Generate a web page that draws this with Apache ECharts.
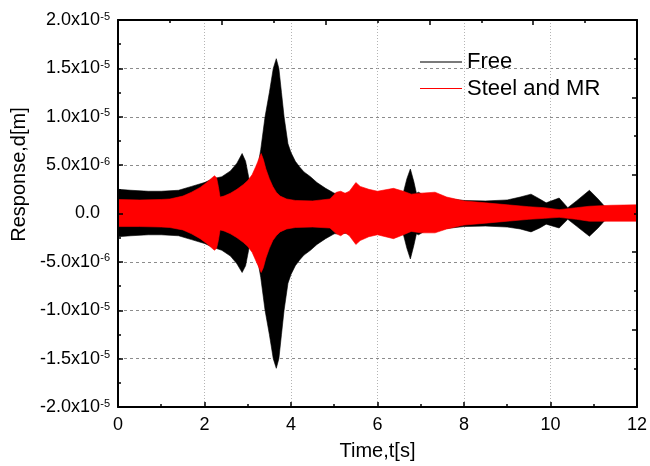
<!DOCTYPE html>
<html>
<head>
<meta charset="utf-8">
<script src="https://cdn.jsdelivr.net/npm/echarts@6/dist/echarts.min.js"></script>
<style>
  html, body { margin: 0; padding: 0; background: #fff; }
  #chart { width: 650px; height: 466px; }
</style>
</head>
<body>
<div id="chart"></div>
<script>
// Displacement response envelopes (upper / lower bound, in units of 1e-6 m)
const freeTime = [0, 0.3, 0.7, 1.0, 1.4, 1.7, 2.0, 2.2, 2.4, 2.6, 2.75, 2.87, 2.95, 3.02, 3.08, 3.2, 3.3, 3.4, 3.5, 3.59, 3.66, 3.72, 3.78, 3.84, 3.93, 4.0, 4.1, 4.2, 4.3, 4.45, 4.6, 4.8, 5.0, 5.5, 6.0, 6.4, 6.6, 6.68, 6.76, 6.84, 6.9, 6.95, 7.1, 7.5, 8.0, 8.5, 9.0, 9.3, 9.55, 9.75, 9.9, 10.2, 10.4, 10.6, 10.9, 11.1, 11.25, 11.5, 12.0];
const freeUpper = [2.5, 2.4, 2.3, 2.3, 2.4, 2.8, 3.2, 3.6, 3.8, 4.4, 5.2, 6.2, 5.4, 3.8, 2.4, 4.0, 6.6, 10.0, 12.5, 15.0, 16.0, 15.0, 12.5, 10.0, 7.2, 6.3, 5.4, 4.8, 4.3, 3.8, 3.2, 2.6, 2.1, 2.0, 1.8, 2.0, 2.2, 3.6, 4.6, 3.3, 2.1, 2.2, 1.8, 1.6, 1.35, 1.3, 1.4, 1.7, 2.0, 1.5, 1.1, 1.6, 0.6, 1.3, 2.4, 1.5, 0.75, 0.6, 0.5];
const freeLower = [-2.4, -2.3, -2.2, -2.2, -2.3, -2.7, -3.1, -3.5, -3.8, -4.4, -5.2, -6.1, -5.4, -3.8, -2.4, -4.0, -6.6, -10.0, -12.5, -15.0, -16.0, -15.0, -12.5, -10.0, -7.2, -6.3, -5.4, -4.8, -4.3, -3.8, -3.2, -2.6, -2.1, -2.0, -1.8, -2.0, -2.2, -3.6, -4.7, -3.3, -2.1, -2.2, -1.8, -1.6, -1.35, -1.3, -1.4, -1.6, -1.9, -1.5, -1.1, -1.5, -0.6, -1.3, -2.35, -1.5, -0.75, -0.6, -0.5];

const mrTime = [0, 0.5, 1.0, 1.2, 1.5, 1.7, 1.9, 2.05, 2.15, 2.23, 2.28, 2.32, 2.36, 2.45, 2.6, 2.75, 2.9, 3.0, 3.1, 3.2, 3.27, 3.31, 3.36, 3.42, 3.5, 3.58, 3.66, 3.75, 3.9, 4.1, 4.5, 4.9, 5.05, 5.15, 5.25, 5.35, 5.5, 5.6, 5.8, 6.0, 6.37, 6.6, 6.78, 7.0, 7.33, 7.6, 8.0, 8.5, 9.0, 9.5, 9.86, 10.2, 10.6, 10.9, 11.4, 12.0];
const mrUpper = [1.45, 1.4, 1.45, 1.5, 1.8, 2.2, 2.7, 3.2, 3.6, 3.9, 3.7, 2.8, 1.7, 1.8, 2.1, 2.5, 3.0, 3.4, 4.0, 5.0, 5.8, 6.2, 5.6, 4.6, 3.6, 2.8, 2.2, 1.8, 1.5, 1.35, 1.3, 1.5, 2.2, 2.3, 2.1, 2.3, 3.2, 2.8, 2.5, 2.3, 2.6, 2.3, 2.0, 2.1, 2.2, 1.7, 1.3, 1.1, 0.9, 0.7, 0.6, 0.4, 0.6, 0.75, 0.85, 0.9];
const mrLower = [-1.35, -1.35, -1.4, -1.45, -1.7, -2.1, -2.6, -3.1, -3.5, -3.8, -3.6, -2.8, -1.7, -1.8, -2.1, -2.5, -3.0, -3.4, -4.0, -5.0, -5.7, -6.1, -5.6, -4.6, -3.6, -2.8, -2.3, -1.9, -1.6, -1.45, -1.4, -1.5, -2.1, -2.3, -2.0, -2.3, -3.2, -2.8, -2.4, -2.2, -2.6, -2.2, -1.85, -2.0, -2.0, -1.6, -1.2, -1.0, -0.8, -0.6, -0.5, -0.4, -0.6, -0.8, -0.8, -0.8];

const seriesNames = ['Free', 'Steel and MR'];

// Y tick labels, bottom to top: mantissa and power of ten
const yTickMantissa = ['-2.0', '-1.5', '-1.0', '-5.0', '0.0', '5.0', '1.0', '1.5', '2.0'];
const yTickExponent = ['-5', '-5', '-5', '-6', '', '-6', '-5', '-5', '-5'];

const FONT = 'Liberation Sans, Arial, sans-serif';

function rows(time, upper, lower) {
  return time.map((t, i) => [t, upper[i], lower[i]]);
}

// Fills the band between the upper and lower envelope as one polygon
function makeBand(time, upper, lower, color) {
  return function (params, api) {
    if (params.dataIndex !== 0) return null;
    const pts = [];
    for (let i = 0; i < time.length; i++) pts.push(api.coord([time[i], upper[i]]));
    for (let i = time.length - 1; i >= 0; i--) pts.push(api.coord([time[i], lower[i]]));
    return {
      type: 'polygon',
      shape: { points: pts },
      style: { fill: color, stroke: color, lineWidth: 0.6 }
    };
  };
}

const axisBlack = { color: '#000', width: 2 };
const tickBlack = { color: '#000', width: 1.5 };

// Legend line keys: a 2px grey bar and a 1px red bar inside the same 2px box
const iconThick = 'path://M0,0H42V2H0Z';
const iconThin = 'path://M0,0H42V1H0Z M0,0H0.01V2H0Z';

const chart = echarts.init(document.getElementById('chart'), null, { renderer: 'canvas' });

chart.setOption({
  animation: false,
  backgroundColor: '#fff',
  grid: { left: 118, right: 10, top: 20, bottom: 58, containLabel: false },
  legend: {
    orient: 'vertical',
    left: 420,
    top: 51,
    padding: 0,
    itemWidth: 42,
    itemHeight: 2,
    itemGap: 5,
    selectedMode: false,
    itemStyle: { borderWidth: 0 },
    lineStyle: { width: 0 },
    textStyle: { fontSize: 22, lineHeight: 22, color: '#000', fontFamily: FONT },
    data: [
      { name: seriesNames[0], icon: iconThick, itemStyle: { color: '#7a7a7a', borderWidth: 0 } },
      { name: seriesNames[1], icon: iconThin, itemStyle: { color: '#ff0000', borderWidth: 0 } }
    ]
  },
  xAxis: [
    {
      type: 'value', position: 'bottom', min: 0, max: 12, interval: 2, z: 3,
      axisLine: { show: true, onZero: false, lineStyle: axisBlack },
      axisTick: { show: true, inside: true, length: 5, lineStyle: tickBlack },
      minorTick: { show: true, splitNumber: 2, length: 3, lineStyle: tickBlack },
      splitLine: { show: false },
      axisLabel: { color: '#000', fontSize: 18, fontFamily: FONT, margin: 9 },
      name: 'Time,t[s]', nameLocation: 'middle', nameGap: 34,
      nameTextStyle: { color: '#000', fontSize: 20, fontFamily: FONT }
    },
    {
      type: 'value', position: 'top', min: 0, max: 12, interval: 2.4, z: 3,
      axisLine: { show: true, onZero: false, lineStyle: axisBlack },
      axisTick: { show: true, inside: true, length: 5, lineStyle: tickBlack },
      minorTick: { show: true, splitNumber: 2, length: 3, lineStyle: tickBlack },
      splitLine: { show: false },
      axisLabel: { show: false }
    },
    {
      type: 'value', position: 'bottom', min: 0, max: 12, interval: 2, z: 0,
      axisLine: { show: false }, axisTick: { show: false }, axisLabel: { show: false },
      splitLine: { show: true, lineStyle: { color: '#b4b4b4', width: 1, type: [1, 2] } }
    }
  ],
  yAxis: [
    {
      type: 'value', position: 'left', min: -20, max: 20, interval: 5, z: 3,
      axisLine: { show: true, onZero: false, lineStyle: axisBlack },
      axisTick: { show: true, inside: true, length: 5, lineStyle: tickBlack },
      minorTick: { show: true, splitNumber: 2, length: 3, lineStyle: tickBlack },
      splitLine: { show: false },
      axisLabel: {
        margin: 8,
        formatter: function (v) {
          const i = Math.round((v + 20) / 5);
          const m = yTickMantissa[i];
          const e = yTickExponent[i];
          return e ? '{b|' + m + 'x10}{s|' + e + '}' : '{b|' + m + '}{s| }';
        },
        rich: {
          b: { color: '#000', fontSize: 18, lineHeight: 18, fontFamily: FONT },
          s: { color: '#000', fontSize: 11, lineHeight: 11, width: 10, fontFamily: FONT, verticalAlign: 'top' }
        }
      },
      name: 'Response,d[m]', nameLocation: 'middle', nameGap: 86,
      nameTextStyle: { color: '#000', fontSize: 20, fontFamily: FONT, padding: [0, 0, 0, 78] }
    },
    {
      type: 'value', position: 'right', min: 0, max: 10, interval: 2, z: 3,
      axisLine: { show: true, onZero: false, lineStyle: axisBlack },
      axisTick: { show: true, inside: true, length: 5, lineStyle: tickBlack },
      minorTick: { show: true, splitNumber: 2, length: 3, lineStyle: tickBlack },
      splitLine: { show: false },
      axisLabel: { show: false }
    },
    {
      type: 'value', position: 'left', min: -20, max: 20, interval: 5, z: 0,
      axisLine: { show: false }, axisTick: { show: false }, axisLabel: { show: false },
      splitLine: { show: true, lineStyle: { color: '#8c8c8c', width: 1, type: [3, 3] } }
    }
  ],
  series: [
    {
      name: seriesNames[0], type: 'custom', xAxisIndex: 0, yAxisIndex: 0, z: 2,
      itemStyle: { color: '#000' },
      data: rows(freeTime, freeUpper, freeLower),
      encode: { x: 0, y: [1, 2] },
      renderItem: makeBand(freeTime, freeUpper, freeLower, '#000')
    },
    {
      name: seriesNames[1], type: 'custom', xAxisIndex: 0, yAxisIndex: 0, z: 2,
      itemStyle: { color: '#ff0000' },
      data: rows(mrTime, mrUpper, mrLower),
      encode: { x: 0, y: [1, 2] },
      renderItem: makeBand(mrTime, mrUpper, mrLower, '#ff0000')
    }
  ]
});
</script>
</body>
</html>
